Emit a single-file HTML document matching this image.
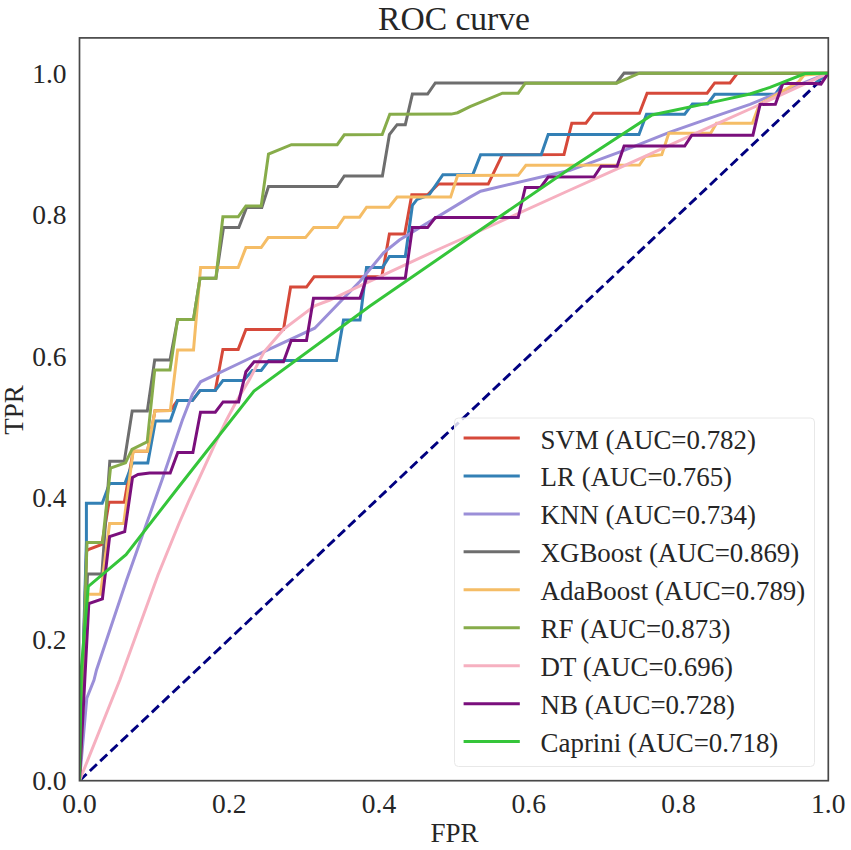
<!DOCTYPE html>
<html><head><meta charset="utf-8"><style>
html,body{margin:0;padding:0;background:#fff;}
svg{display:block;}
text{font-family:"Liberation Serif",serif;fill:#262626;}
</style></head><body>
<svg width="851" height="850" viewBox="0 0 851 850">
<rect width="851" height="850" fill="#fff"/>
<defs><clipPath id="ax"><rect x="79.5" y="37.9" width="748.8" height="742.8000000000001"/></clipPath></defs>
<g clip-path="url(#ax)">
<line x1="79.5" y1="780.7" x2="828.3" y2="73.2" stroke="#000080" stroke-width="2.9" stroke-dasharray="9.7 4.52"/>
<polyline points="79.5,780.7 86.5,551 88.3,549.5 101.9,544.4 109,502.3 124.3,502.3 133.1,451.2 147.5,451.3 155,410.8 170.3,410.6 177.5,400.6 192.4,400.6 200,390.6 215.3,390.6 222.9,349.4 238.2,349.4 245.9,329.4 283.5,329.4 290.6,287.1 306.5,287.1 314.1,276.8 381.8,276.8 389.4,234.1 404.7,234.1 411.8,194.7 427.6,194.7 438.2,184.1 488.2,184.1 502.4,154.7 564,154.4 571.8,123.2 585.9,123.2 593.5,113.2 639.4,113.2 647.1,93.2 707.1,93.2 714.7,82.9 730,82.9 737.1,73.5 828.3,73.2" fill="none" stroke="#d6493a" stroke-width="3.0" stroke-linejoin="miter" stroke-miterlimit="2"/>
<polyline points="79.5,780.7 86.4,541.8 86.4,503.2 102.2,503.2 109.6,483.5 124.9,483.5 132.5,462.9 147.8,462.9 155.4,421 170.3,421 177.5,400.4 192.4,400.4 200,390.6 215.3,390.6 222.9,380.6 243.5,380.6 252.4,370.4 261.2,370.4 268.8,360.6 336.5,360.6 343.5,320 360,320 366.5,267.6 382.4,267.6 389.4,256.5 405.3,256.5 412.4,205.3 417.1,199.4 428.8,195.3 442.9,174.7 472.9,174.4 480.6,154.7 541.2,154.7 548.2,134.4 639,134.5 646.5,114.2 684.7,114.2 692.4,103.9 707.6,103.9 714.7,94.3 775.4,94.2 782.8,83.6 814.6,83.6 828.3,73.2" fill="none" stroke="#3380b5" stroke-width="3.0" stroke-linejoin="miter" stroke-miterlimit="2"/>
<polyline points="79.5,780.7 86.8,698.1 94,680 96.5,670 126.6,580 162,480 182.4,420 192.4,394.1 200.6,381.8 240,363 270,348.8 314.7,328.2 360,281.2 383.5,252.9 399.4,240 470,197.1 480.6,191.2 570,170.3 587.6,163.8 623.5,150.6 670,132.1 720,114.7 750,104.3 770,96.2 828.3,73.2" fill="none" stroke="#9b8fd8" stroke-width="3.0" stroke-linejoin="miter" stroke-miterlimit="2"/>
<polyline points="79.5,780.7 87.5,574.1 101.9,574.1 109.8,461.2 124.3,461.2 132.2,411.1 147.3,411.1 154.7,360 170,360 177.6,319.4 193.5,319.4 200,278.2 215.9,278.2 223.5,227.6 238.8,227.6 246.5,207.6 261.8,207.6 268.5,186.6 337.2,186.6 344.3,176 382.4,175.9 389.4,134.7 397.1,124.7 405.3,124.7 412.4,94.1 427.6,94.1 435.3,82.9 616.5,83 624.1,73 828.3,73.2" fill="none" stroke="#6e6e6e" stroke-width="3.0" stroke-linejoin="miter" stroke-miterlimit="2"/>
<polyline points="79.5,780.7 88,594.2 100.5,594.2 109.6,523.6 123.7,523.6 133.1,451.2 147.5,451.3 155,410.8 170.3,410.6 177.6,350 193.5,350 200.6,267.6 238.2,267.6 245.9,247.6 261.2,247.6 268.2,237.6 305.5,237.6 313.7,227.5 337.2,227.5 344.3,217.2 359.6,217.2 366.6,207.2 389,207.2 397.1,197.1 450.6,197.1 457.6,175.5 518.2,175.3 525.9,165.3 639.4,165 645.3,156.5 661.8,154.7 668.8,133.3 710.6,133.3 716.5,123.3 752.4,123.2 759.4,104.4 798.5,82 804,75 828.3,73.2" fill="none" stroke="#f5bd66" stroke-width="3.0" stroke-linejoin="miter" stroke-miterlimit="2"/>
<polyline points="79.5,780.7 87,542.6 102.5,542.6 110.5,468.2 125.5,462.9 132,449.4 147.2,441.8 154.7,370 170,370 177.6,319.4 193.5,319.4 200,278.2 215.9,278.2 222.9,216.8 238.2,216.8 245.9,205.9 261.2,205.9 268.5,154.1 291.4,144.7 337.2,144.7 344.3,134.8 382.2,134.5 389.8,114.3 451.2,114.1 457.6,112.7 470,106.6 502.4,93.2 518.2,93.2 525.3,83.2 616.5,83.2 639.4,73.2 828.3,73.2" fill="none" stroke="#87ac4a" stroke-width="3.0" stroke-linejoin="miter" stroke-miterlimit="2"/>
<polyline points="79.5,780.7 119.8,680 158,575 179,523.5 189.2,500 213.9,446.4 226.5,420 236.5,401.2 249.2,380 264.1,351.8 283.5,329.4 314.7,305.9 330,300 360,285.9 437,250 481.8,230 570,190 620,167.6 720,122.4 750,109 828.3,73.2" fill="none" stroke="#f6b0c0" stroke-width="3.0" stroke-linejoin="miter" stroke-miterlimit="2"/>
<polyline points="79.5,780.7 88.8,603.5 102.4,598.8 109.6,536.6 124.7,531.6 132.5,477.5 138,474.5 149.6,473 170.2,473 177.8,452.4 192.9,452.5 200.5,412.2 215.3,412.2 223.1,401.9 238.6,401.9 245.9,371.8 254.1,361.8 283.5,361.8 291.2,340.6 306.5,340.6 313.5,298.2 360,298.2 366.5,278.2 405.3,278.2 412.4,227.6 427.6,227.6 435.3,217.6 518.2,217.6 525.3,187.4 540.6,187.4 548.2,177.1 594.1,176.8 601.2,166.2 617.1,166.2 624.1,146 684.7,146 691.8,135.2 752.9,135.2 760.1,104.4 775.4,104.3 782.8,83.6 814.6,83.6 821,84.1 828.3,73.2" fill="none" stroke="#7a0f7c" stroke-width="3.0" stroke-linejoin="miter" stroke-miterlimit="2"/>
<polyline points="79.5,780.7 81.2,670 88.3,586.4 126,554.7 179,486.5 254,391 370,306 470,237.1 570,168.5 652,115 720,100.6 750,94 770,87.4 805.1,73.5 828.3,73.2" fill="none" stroke="#35c53a" stroke-width="3.0" stroke-linejoin="miter" stroke-miterlimit="2"/>
</g>
<g font-size="26.9">
<rect x="454.5" y="418" width="360" height="348.5" rx="4" ry="4" fill="#fff" fill-opacity="0.8" stroke="#e8e8e8" stroke-width="1"/>
<line x1="463.6" y1="438.00" x2="519.8" y2="438.00" stroke="#d6493a" stroke-width="3.0"/>
<text x="540.6" y="448.50">SVM (AUC=0.782)</text>
<line x1="463.6" y1="475.95" x2="519.8" y2="475.95" stroke="#3380b5" stroke-width="3.0"/>
<text x="540.6" y="486.45">LR (AUC=0.765)</text>
<line x1="463.6" y1="513.90" x2="519.8" y2="513.90" stroke="#9b8fd8" stroke-width="3.0"/>
<text x="540.6" y="524.40">KNN (AUC=0.734)</text>
<line x1="463.6" y1="551.85" x2="519.8" y2="551.85" stroke="#6e6e6e" stroke-width="3.0"/>
<text x="540.6" y="562.35">XGBoost (AUC=0.869)</text>
<line x1="463.6" y1="589.80" x2="519.8" y2="589.80" stroke="#f5bd66" stroke-width="3.0"/>
<text x="540.6" y="600.30">AdaBoost (AUC=0.789)</text>
<line x1="463.6" y1="627.75" x2="519.8" y2="627.75" stroke="#87ac4a" stroke-width="3.0"/>
<text x="540.6" y="638.25">RF (AUC=0.873)</text>
<line x1="463.6" y1="665.70" x2="519.8" y2="665.70" stroke="#f6b0c0" stroke-width="3.0"/>
<text x="540.6" y="676.20">DT (AUC=0.696)</text>
<line x1="463.6" y1="703.65" x2="519.8" y2="703.65" stroke="#7a0f7c" stroke-width="3.0"/>
<text x="540.6" y="714.15">NB (AUC=0.728)</text>
<line x1="463.6" y1="741.60" x2="519.8" y2="741.60" stroke="#35c53a" stroke-width="3.0"/>
<text x="540.6" y="752.10">Caprini (AUC=0.718)</text>
</g>
<rect x="79.5" y="37.9" width="748.8" height="742.8000000000001" fill="none" stroke="#484848" stroke-width="1.7"/>
<g font-size="27.5">
<text x="79.50" y="812.5" text-anchor="middle">0.0</text>
<text x="66.5" y="790.20" text-anchor="end">0.0</text>
<text x="229.26" y="812.5" text-anchor="middle">0.2</text>
<text x="66.5" y="648.70" text-anchor="end">0.2</text>
<text x="379.02" y="812.5" text-anchor="middle">0.4</text>
<text x="66.5" y="507.20" text-anchor="end">0.4</text>
<text x="528.78" y="812.5" text-anchor="middle">0.6</text>
<text x="66.5" y="365.70" text-anchor="end">0.6</text>
<text x="678.54" y="812.5" text-anchor="middle">0.8</text>
<text x="66.5" y="224.20" text-anchor="end">0.8</text>
<text x="828.30" y="812.5" text-anchor="middle">1.0</text>
<text x="66.5" y="82.70" text-anchor="end">1.0</text>
</g>
<text x="454" y="29.6" text-anchor="middle" font-size="33.6">ROC curve</text>
<text x="454.5" y="841.5" text-anchor="middle" font-size="27">FPR</text>
<text transform="translate(23.2,410) rotate(-90)" text-anchor="middle" font-size="27">TPR</text>
</svg>
</body></html>
